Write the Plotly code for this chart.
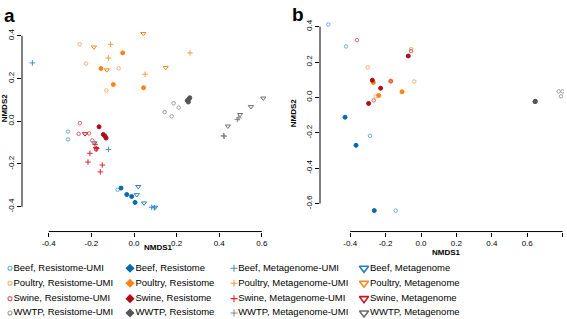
import plotly.graph_objects as go

# ---------------- data ----------------
SPECIES = ["Beef", "Poultry", "Swine", "WWTP"]
TYPES = ["Resistome-UMI", "Resistome", "Metagenome-UMI", "Metagenome"]

# Panel a (all four data types)
A_BEEF_RUMI = [(-0.31, -0.048), (-0.31, -0.085), (-0.077, -0.321)]
A_BEEF_RES = [(-0.061, -0.313), (-0.034, -0.343), (-0.011, -0.352), (0.005, -0.380)]
A_BEEF_MUMI = [(-0.477, 0.273), (-0.120, -0.132), (0.083, -0.403), (0.095, -0.405)]
A_BEEF_META = [(-0.186, -0.102), (0.020, -0.306), (0.013, -0.344), (0.047, -0.383), (0.099, -0.403)]

A_POUL_RUMI = [(-0.255, 0.36), (-0.225, 0.27), (-0.13, 0.144), (-0.072, 0.247)]
A_POUL_RES = [(-0.053, 0.32), (-0.155, 0.247), (-0.097, 0.172), (0.045, 0.157)]
A_POUL_MUMI = [(-0.11, 0.36), (-0.12, 0.296), (0.052, 0.22), (0.263, 0.32)]
A_POUL_META = [(-0.188, 0.347), (-0.128, 0.24), (0.044, 0.41), (0.149, 0.251)]

A_SWIN_RUMI = [(-0.254, -0.009), (-0.26, -0.059), (-0.211, -0.057), (-0.196, -0.090), (-0.178, -0.133)]
A_SWIN_RES = [(-0.164, -0.026), (-0.144, -0.062), (-0.136, -0.070), (-0.131, -0.079)]
A_SWIN_MUMI = [(-0.183, -0.108), (-0.207, -0.150), (-0.216, -0.191), (-0.149, -0.205), (-0.158, -0.237), (-0.175, -0.128)]
A_SWIN_META = [(-0.230, -0.059), (-0.178, -0.128)]

A_WWTP_RUMI = [(0.144, 0.043), (0.177, 0.023), (0.186, 0.084), (0.21, 0.064)]
A_WWTP_RES = [(0.250, 0.097), (0.258, 0.104), (0.262, 0.110), (0.255, 0.090)]
A_WWTP_MUMI = [(0.424, -0.070), (0.485, 0.008), (0.492, 0.016), (0.420, -0.068)]
A_WWTP_META = [(0.441, -0.023), (0.498, 0.031), (0.549, 0.068), (0.607, 0.108)]

# Panel b (resistome data only)
B_BEEF_RUMI = [(-0.524, 0.412), (-0.424, 0.288), (-0.288, -0.217), (-0.143, -0.64)]
B_BEEF_RES = [(-0.429, -0.112), (-0.367, -0.271), (-0.264, -0.64)]
B_POUL_RUMI = [(-0.301, 0.17), (-0.055, 0.273), (-0.038, 0.09), (-0.256, 0.006)]
B_POUL_RES = [(-0.269, 0.084), (-0.239, 0.011), (-0.171, 0.092), (-0.107, 0.032)]
B_SWIN_RUMI = [(-0.362, 0.324), (-0.056, 0.262), (-0.267, -0.017), (-0.17, 0.092)]
B_SWIN_RES = [(-0.072, 0.234), (-0.275, 0.097), (-0.228, 0.052), (-0.296, -0.034)]
B_WWTP_RUMI = [(0.778, 0.034), (0.80, 0.034), (0.791, 0.006)]
B_WWTP_RES = [(0.644, -0.024), (0.646, -0.022)]

A_TICKS_X = [-0.4, -0.2, 0.0, 0.2, 0.4, 0.6]
A_TICKS_Y = [-0.4, -0.2, 0.0, 0.2, 0.4]
B_TICKS_X = [-0.4, -0.2, 0.0, 0.2, 0.4, 0.6, 0.8]
B_TICKS_Y = [-0.6, -0.4, -0.2, 0.0, 0.2, 0.4]

PANEL_A = {
    ("Beef", "Resistome-UMI"): A_BEEF_RUMI, ("Beef", "Resistome"): A_BEEF_RES,
    ("Beef", "Metagenome-UMI"): A_BEEF_MUMI, ("Beef", "Metagenome"): A_BEEF_META,
    ("Poultry", "Resistome-UMI"): A_POUL_RUMI, ("Poultry", "Resistome"): A_POUL_RES,
    ("Poultry", "Metagenome-UMI"): A_POUL_MUMI, ("Poultry", "Metagenome"): A_POUL_META,
    ("Swine", "Resistome-UMI"): A_SWIN_RUMI, ("Swine", "Resistome"): A_SWIN_RES,
    ("Swine", "Metagenome-UMI"): A_SWIN_MUMI, ("Swine", "Metagenome"): A_SWIN_META,
    ("WWTP", "Resistome-UMI"): A_WWTP_RUMI, ("WWTP", "Resistome"): A_WWTP_RES,
    ("WWTP", "Metagenome-UMI"): A_WWTP_MUMI, ("WWTP", "Metagenome"): A_WWTP_META,
}
PANEL_B = {
    ("Beef", "Resistome-UMI"): B_BEEF_RUMI, ("Beef", "Resistome"): B_BEEF_RES,
    ("Poultry", "Resistome-UMI"): B_POUL_RUMI, ("Poultry", "Resistome"): B_POUL_RES,
    ("Swine", "Resistome-UMI"): B_SWIN_RUMI, ("Swine", "Resistome"): B_SWIN_RES,
    ("WWTP", "Resistome-UMI"): B_WWTP_RUMI, ("WWTP", "Resistome"): B_WWTP_RES,
}

# ---------------- styles ----------------
COLORS = {
    ("Beef", "Resistome-UMI"): "#6baed6", ("Beef", "Resistome"): "#0868ac",
    ("Beef", "Metagenome-UMI"): "#4a92c9", ("Beef", "Metagenome"): "#2b7fc0",
    ("Poultry", "Resistome-UMI"): "#fdae6b", ("Poultry", "Resistome"): "#fd8217",
    ("Poultry", "Metagenome-UMI"): "#fd9a45", ("Poultry", "Metagenome"): "#f98a1c",
    ("Swine", "Resistome-UMI"): "#d9646e", ("Swine", "Resistome"): "#b00c15",
    ("Swine", "Metagenome-UMI"): "#dc2a2a", ("Swine", "Metagenome"): "#c2161e",
    ("WWTP", "Resistome-UMI"): "#9e9e9e", ("WWTP", "Resistome"): "#555555",
    ("WWTP", "Metagenome-UMI"): "#888888", ("WWTP", "Metagenome"): "#6e6e6e",
}
SYMBOLS = {"Resistome-UMI": "circle-open", "Resistome": "circle",
           "Metagenome-UMI": "cross-thin-open", "Metagenome": "triangle-down-open"}
PLOT_SIZES = {"Resistome-UMI": 3.5, "Resistome": 4, "Metagenome-UMI": 4, "Metagenome": 4.5}
LEG_SYMBOLS = {"Resistome-UMI": "circle-open", "Resistome": "diamond",
               "Metagenome-UMI": "cross-thin-open", "Metagenome": "triangle-down-open"}
LEG_SIZES = {"Resistome-UMI": 4, "Resistome": 7, "Metagenome-UMI": 5, "Metagenome": 8}
LEG_LINE = {"Resistome-UMI": 1.1, "Resistome": 0, "Metagenome-UMI": 1.1, "Metagenome": 1.6}

W, H = 567, 319
FONT = "Liberation Sans, Arial, sans-serif"

fig = go.Figure()


def add_panel(data, xa, ya):
    for (sp, ty), pts in data.items():
        col = COLORS[(sp, ty)]
        fig.add_trace(go.Scatter(
            x=[p[0] for p in pts], y=[p[1] for p in pts], mode="markers",
            xaxis=xa, yaxis=ya, showlegend=False, hoverinfo="skip",
            marker=dict(symbol=SYMBOLS[ty], size=PLOT_SIZES[ty], color=col,
                        line=dict(width=1, color=col)),
        ))


add_panel(PANEL_A, "x", "y")
add_panel(PANEL_B, "x2", "y2")

# custom key laid out on its own pixel-scaled axis
LEG_COL_PX = [10, 130, 234, 364]
LEG_ROW_PX = [268, 283, 298.5, 313]
for i, sp in enumerate(SPECIES):
    for j, ty in enumerate(TYPES):
        col = COLORS[(sp, ty)]
        fig.add_trace(go.Scatter(
            x=[LEG_COL_PX[j]], y=[LEG_ROW_PX[i]], mode="markers+text",
            xaxis="x3", yaxis="y3", showlegend=False, hoverinfo="skip",
            text=[f"{sp}, {ty}"], textposition="middle right",
            textfont=dict(family=FONT, size=9.5, color="#000000"),
            marker=dict(symbol=LEG_SYMBOLS[ty], size=LEG_SIZES[ty], color=col,
                        line=dict(width=LEG_LINE[ty], color=col)),
        ))


def px_to_dom_x(px):
    return px / W


def px_to_dom_y(py):
    return (H - py) / H


def ax(domain, rng, ticks, anchor, angle=0):
    return dict(domain=domain, range=rng, anchor=anchor, tickvals=ticks,
                ticktext=[f"{t:.1f}" for t in ticks], ticks="outside", ticklen=4,
                tickwidth=1, tickcolor="#000", showline=False, showgrid=False,
                zeroline=False, tickangle=angle,
                tickfont=dict(family=FONT, size=8, color="#000"))


fig.update_layout(
    width=W, height=H, margin=dict(l=0, r=0, t=0, b=0),
    paper_bgcolor="white", plot_bgcolor="white",
    xaxis=ax([px_to_dom_x(22), px_to_dom_x(290)], [-0.5258, 0.7324], A_TICKS_X, "y"),
    yaxis=ax([px_to_dom_y(231), px_to_dom_y(25)], [-0.5163, 0.4419], A_TICKS_Y, "x", -90),
    xaxis2=ax([px_to_dom_x(320), px_to_dom_x(564)], [-0.5706, 0.8079], B_TICKS_X, "y2"),
    yaxis2=ax([px_to_dom_y(231), px_to_dom_y(20)], [-0.7584, 0.427], B_TICKS_Y, "x2", -90),
    xaxis3=dict(domain=[0, 1], range=[0, W], anchor="y3", visible=False),
    yaxis3=dict(domain=[0, px_to_dom_y(258)], range=[H, 258], anchor="x3", visible=False),
    shapes=[
        dict(type="line", xref="x domain", yref="y", x0=0, x1=0,
             y0=min(A_TICKS_Y), y1=max(A_TICKS_Y), line=dict(color="#000", width=1)),
        dict(type="line", xref="x", yref="y domain", y0=0, y1=0,
             x0=min(A_TICKS_X), x1=max(A_TICKS_X), line=dict(color="#000", width=1)),
        dict(type="line", xref="x2 domain", yref="y2", x0=0, x1=0,
             y0=min(B_TICKS_Y), y1=max(B_TICKS_Y), line=dict(color="#000", width=1)),
        dict(type="line", xref="x2", yref="y2 domain", y0=0, y1=0,
             x0=min(B_TICKS_X), x1=max(B_TICKS_X), line=dict(color="#000", width=1)),
    ],
    annotations=[
        dict(text="<b>a</b>", x=px_to_dom_x(2), y=px_to_dom_y(1), xref="paper", yref="paper",
             xanchor="left", yanchor="top", showarrow=False, font=dict(family=FONT, size=19, color="#000")),
        dict(text="<b>b</b>", x=px_to_dom_x(290), y=px_to_dom_y(0), xref="paper", yref="paper",
             xanchor="left", yanchor="top", showarrow=False, font=dict(family=FONT, size=19, color="#000")),
        dict(text="<b>NMDS1</b>", x=px_to_dom_x(158), y=px_to_dom_y(247), xref="paper", yref="paper",
             xanchor="center", yanchor="middle", showarrow=False, font=dict(family=FONT, size=8, color="#000")),
        dict(text="<b>NMDS1</b>", x=px_to_dom_x(446), y=px_to_dom_y(252), xref="paper", yref="paper",
             xanchor="center", yanchor="middle", showarrow=False, font=dict(family=FONT, size=8, color="#000")),
        dict(text="<b>NMDS2</b>", x=px_to_dom_x(4), y=px_to_dom_y(107), xref="paper", yref="paper",
             xanchor="center", yanchor="middle", textangle=-90, showarrow=False,
             font=dict(family=FONT, size=8, color="#000")),
        dict(text="<b>NMDS2</b>", x=px_to_dom_x(293), y=px_to_dom_y(112), xref="paper", yref="paper",
             xanchor="center", yanchor="middle", textangle=-90, showarrow=False,
             font=dict(family=FONT, size=8, color="#000")),
    ],
)

fig.write_html("out.html", config={"displayModeBar": False},
               post_script="document.body.style.margin='0';document.body.style.overflow='hidden';")
